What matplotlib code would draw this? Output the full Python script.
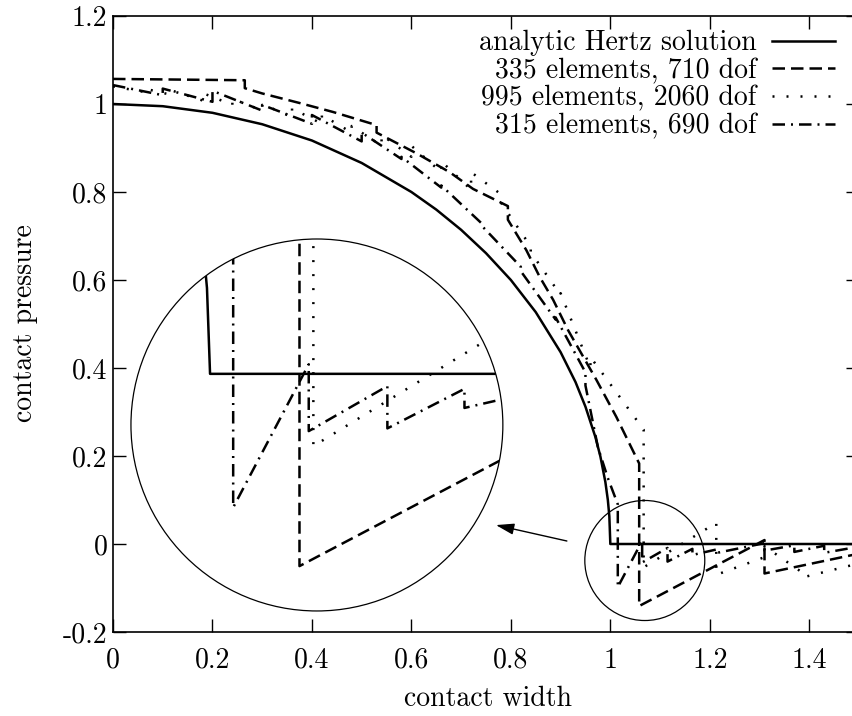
import matplotlib
matplotlib.use('Agg')
import matplotlib.pyplot as plt
from matplotlib.patches import Ellipse

plt.rcParams['font.family'] = ['cmr10', 'DejaVu Serif']
plt.rcParams['axes.unicode_minus'] = False
plt.rcParams['axes.formatter.use_mathtext'] = True

# ---------------- data ----------------
hertz_x = [0.0, 0.1, 0.2, 0.3, 0.4, 0.5, 0.6, 0.65, 0.7, 0.75, 0.8, 0.85, 0.9,
           0.93, 0.95, 0.97, 0.98, 0.99, 0.995, 0.998, 1.0, 1.6]
hertz_y = [1.0, 0.995, 0.980, 0.954, 0.917, 0.866, 0.800, 0.760, 0.714, 0.661,
           0.600, 0.527, 0.436, 0.368, 0.312, 0.243, 0.199, 0.141, 0.100, 0.063,
           0.0, 0.0]

x_335 = [0.0, 0.265, 0.265, 0.30, 0.376, 0.442, 0.53, 0.53, 0.61, 0.677, 0.724,
         0.794, 0.794, 0.831, 0.858, 0.885, 0.915, 0.972, 1.012, 1.058, 1.058,
         1.31, 1.31, 1.55]
y_335 = [1.057, 1.054, 1.036, 1.024, 1.002, 0.982, 0.952, 0.935, 0.888, 0.845,
         0.807, 0.768, 0.737, 0.668, 0.607, 0.555, 0.486, 0.373, 0.289, 0.183,
         -0.141, 0.009, -0.067, -0.010]

x_995 = [0.0, 0.06, 0.06, 0.12, 0.12, 0.18, 0.18, 0.24, 0.24, 0.30, 0.30, 0.36,
         0.36, 0.42, 0.42, 0.48, 0.48, 0.54, 0.54, 0.60, 0.60, 0.66, 0.66, 0.72,
         0.72, 0.78, 0.78, 0.84, 0.84, 0.90, 0.90, 0.96, 0.96, 1.067, 1.067,
         1.213, 1.213, 1.31, 1.31, 1.39, 1.39, 1.55]
y_995 = [1.040, 1.028, 1.036, 1.020, 1.030, 1.008, 1.025, 0.998, 1.012, 0.985,
         1.000, 0.970, 0.990, 0.955, 0.975, 0.935, 0.950, 0.905, 0.930, 0.880,
         0.905, 0.845, 0.870, 0.805, 0.845, 0.795, 0.776, 0.676, 0.663, 0.566,
         0.570, 0.400, 0.425, 0.260, -0.053, 0.048, -0.070, -0.030, -0.005,
         -0.068, -0.075, -0.030]

x_315 = [0.0, 0.1, 0.1, 0.2, 0.2, 0.3, 0.3, 0.4, 0.4, 0.5, 0.5, 0.58, 0.58,
         0.66, 0.66, 0.74, 0.74, 0.82, 0.82, 0.89, 0.89, 0.95, 0.95, 0.975,
         0.995, 1.015, 1.015, 1.064, 1.064, 1.115, 1.115, 1.165, 1.165, 1.215,
         1.215, 1.31, 1.31, 1.37, 1.37, 1.43, 1.43, 1.49, 1.49, 1.55]
y_315 = [1.043, 1.020, 1.035, 1.005, 1.030, 0.985, 0.998, 0.955, 0.975, 0.915,
         0.935, 0.875, 0.880, 0.810, 0.815, 0.730, 0.725, 0.630, 0.620, 0.510,
         0.515, 0.390, 0.360, 0.220, 0.150, 0.090, -0.098, 0.007, -0.042,
         -0.009, -0.040, -0.011, -0.025, -0.012, -0.020, 0.002, -0.015, -0.003,
         -0.018, -0.004, -0.020, -0.008, -0.020, -0.012]

labels = ["analytic Hertz solution", "335 elements, 710 dof",
          "995 elements, 2060 dof", "315 elements, 690 dof"]

xticks = [0.0, 0.2, 0.4, 0.6, 0.8, 1.0, 1.2, 1.4]
xtick_labels = ["0", "0.2", "0.4", "0.6", "0.8", "1", "1.2", "1.4"]
yticks = [-0.2, 0.0, 0.2, 0.4, 0.6, 0.8, 1.0, 1.2]
ytick_labels = ["-0.2", "0", "0.2", "0.4", "0.6", "0.8", "1", "1.2"]

# zoom circles (centre x, centre y, radius x, radius y) in data units
small_c = (1.0693, -0.0375, 0.1206, 0.1364)
big_c = (0.410, 0.2705, 0.3739, 0.4227)

# ---------------- styles ----------------
LW = 1.8
styles = [
    dict(color='black', lw=LW, linestyle='-'),
    dict(color='black', lw=LW, linestyle=(0, (5.0, 2.4))),
    dict(color='black', lw=LW, linestyle=(0, (0.8, 4.8))),
    dict(color='black', lw=LW, linestyle=(0, (5.0, 2.4, 0.8, 2.4))),
]
series = [(hertz_x, hertz_y), (x_335, y_335), (x_995, y_995), (x_315, y_315)]

fig = plt.figure(figsize=(8.53, 7.16), dpi=100)
ax = fig.add_axes([113 / 853, 1 - 632 / 716, 746 / 853, 616 / 716])

handles = []
for (xs, ys), st, lab in zip(series, styles, labels):
    h, = ax.plot(xs, ys, label=lab, **st)
    handles.append(h)

ax.set_xlim(0, 1.5)
ax.set_ylim(-0.2, 1.2)
ax.set_xticks(xticks)
ax.set_xticklabels(xtick_labels)
ax.set_yticks(yticks)
ax.set_yticklabels(ytick_labels)
ax.tick_params(direction='in', length=9.5, width=1.0, top=True, right=True,
               labelsize=20)
ax.tick_params(axis='x', pad=11)
ax.tick_params(axis='y', pad=4)
for sp in ax.spines.values():
    sp.set_linewidth(1.2)

# small circle on main plot
ax.add_patch(Ellipse((small_c[0], small_c[1]), 2 * small_c[2], 2 * small_c[3],
                     fill=False, edgecolor='black', lw=0.9))
# big circle
ax.add_patch(Ellipse((big_c[0], big_c[1]), 2 * big_c[2], 2 * big_c[3],
                     fill=False, edgecolor='black', lw=0.9, zorder=3))

# inset (magnified view)
axin = ax.inset_axes([big_c[0] - big_c[2], big_c[1] - big_c[3],
                      2 * big_c[2], 2 * big_c[3]], transform=ax.transData)
axin.set_xlim(small_c[0] - small_c[2], small_c[0] + small_c[2])
axin.set_ylim(small_c[1] - small_c[3], small_c[1] + small_c[3])
axin.axis('off')
axin.patch.set_visible(False)
clip = Ellipse((0.5, 0.5), 1.0, 1.0, transform=axin.transAxes)
for (xs, ys), st in zip(series, styles):
    ln, = axin.plot(xs, ys, **st)
    ln.set_clip_path(clip)

# arrow
ax.annotate('', xy=(0.770, 0.043), xytext=(0.9126, 0.0068),
            arrowprops=dict(arrowstyle='-|>,head_length=0.55,head_width=0.17',
                            color='black', lw=1.0, mutation_scale=20,
                            shrinkA=0, shrinkB=0))

# legend (text left, sample right, right-aligned)
leg = fig.legend(handles=handles, labels=labels, loc='upper right',
                 bbox_to_anchor=(835 / 853, 1 - 30 / 716), frameon=False,
                 markerfirst=False, fontsize=20, handlelength=2.27,
                 handletextpad=0.55, labelspacing=0.05, borderpad=0,
                 borderaxespad=0)

fig.text(488 / 853, 1 - 699 / 716, "contact width", ha='center', va='center',
         fontsize=20)
fig.text(25 / 853, 1 - 323 / 716, "contact pressure", ha='center', va='center',
         rotation=90, fontsize=20)

fig.savefig('out.png', dpi=100)
